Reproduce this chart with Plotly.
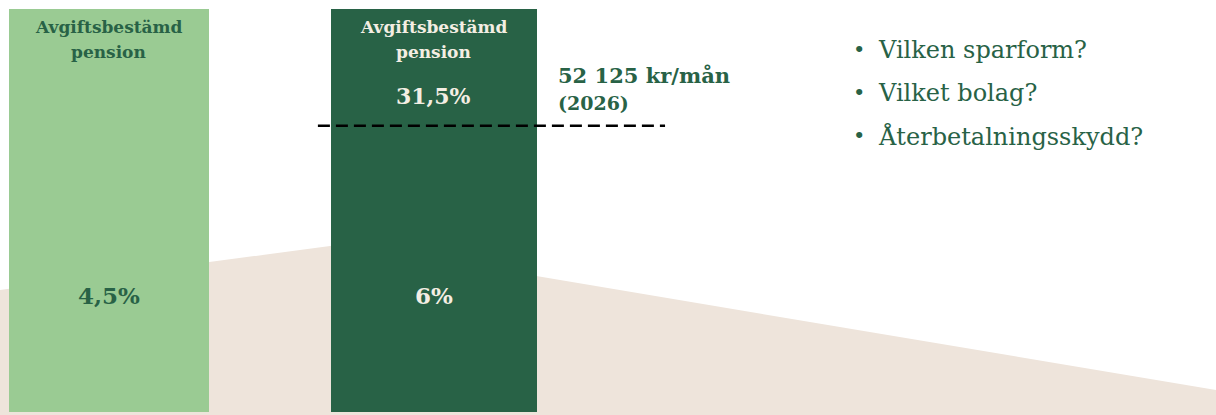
import plotly.graph_objects as go

# ---- data ----
bar_titles = [["Avgiftsbestämd", "pension"], ["Avgiftsbestämd", "pension"]]
bar_positions = [0, 1]
segment_below_ceiling = [100, 71]   # share of bar height up to the income ceiling
segment_above_ceiling = [0, 29]     # share of bar height above the ceiling
rate_below = ["4,5%", "6%"]
rate_above = ["", "31,5%"]
ceiling_label = "52 125 kr/mån"
ceiling_year = "(2026)"
questions = ["Vilken sparform?", "Vilket bolag?", "Återbetalningsskydd?"]

LIGHT = "#9ACB93"
DARK = "#286246"
CREAM = "#F4EEE3"
BEIGE = "#EEE4DB"
FONT = "DejaVu Serif"

W, H = 1216, 415
fig = go.Figure()

fig.add_trace(go.Bar(
    x=bar_positions, y=segment_below_ceiling, width=[0.615, 0.634],
    marker=dict(color=[LIGHT, DARK], line=dict(width=0)), hoverinfo="skip"))
fig.add_trace(go.Bar(
    x=bar_positions, y=segment_above_ceiling, width=[0.615, 0.634],
    marker=dict(color=[LIGHT, DARK], line=dict(width=0)), hoverinfo="skip"))

# background beige slope
def px(x, y):
    return f"{x/W:.5f},{1 - y/H:.5f}"

path = "M " + " L ".join([px(0, 290), px(345, 244), px(1216, 390), px(1216, 415), px(0, 415)]) + " Z"
fig.add_shape(type="path", path=path, xref="paper", yref="paper",
              fillcolor=BEIGE, line=dict(width=0), layer="below")

# ceiling dashed line
ceiling = segment_below_ceiling[1]
fig.add_shape(type="line", x0=0.643, x1=1.711, y0=ceiling, y1=ceiling,
              xref="x", yref="y", line=dict(color="black", width=2.5, dash="12px,6px"))

text_colors = [DARK, CREAM]
for i, pos in enumerate(bar_positions):
    top = segment_below_ceiling[i] + segment_above_ceiling[i]
    for j, line in enumerate(bar_titles[i]):
        fig.add_annotation(x=pos, y=top, text=f"<b>{line}</b>", showarrow=False,
                           yanchor="middle", yshift=-18 - 25 * j, align="center",
                           font=dict(family=FONT, size=17, color=text_colors[i]))
    fig.add_annotation(x=pos, y=28.8, yanchor="middle", text=f"<b>{rate_below[i]}</b>",
                       showarrow=False,
                       font=dict(family=FONT, size=23, color=text_colors[i]))
    if rate_above[i]:
        fig.add_annotation(x=pos, y=segment_below_ceiling[i] + 7.3, yanchor="middle",
                           text=f"<b>{rate_above[i]}</b>", showarrow=False,
                           font=dict(family=FONT, size=22, color=text_colors[i]))

fig.add_annotation(x=556 / W, y=1 - 75 / H, xref="paper", yref="paper", xanchor="left",
                   yanchor="middle", text=f"<b>{ceiling_label}</b>", showarrow=False,
                   font=dict(family=FONT, size=21, color=DARK))
fig.add_annotation(x=556 / W, y=1 - 103 / H, xref="paper", yref="paper", xanchor="left",
                   yanchor="middle", text=f"<b>{ceiling_year}</b>", showarrow=False,
                   font=dict(family=FONT, size=19, color=DARK))

for k, q in enumerate(questions):
    yy = 50 + 43 * k
    fig.add_annotation(x=851 / W, y=1 - yy / H, xref="paper", yref="paper", xanchor="left",
                       yanchor="middle", text="•", showarrow=False,
                       font=dict(family=FONT, size=21, color=DARK))
    fig.add_annotation(x=876 / W, y=1 - yy / H, xref="paper", yref="paper", xanchor="left",
                       yanchor="middle", text=q, showarrow=False,
                       font=dict(family=FONT, size=24, color=DARK))

fig.update_layout(
    width=W, height=H, margin=dict(l=0, r=0, t=0, b=0),
    barmode="stack", showlegend=False,
    paper_bgcolor="white", plot_bgcolor="rgba(0,0,0,0)",
    xaxis=dict(range=[-0.335, 3.406], visible=False, fixedrange=True),
    yaxis=dict(range=[-0.744, 102.23], visible=False, fixedrange=True),
)

fig.write_html("out.html", config={"displayModeBar": False},
               post_script="document.body.style.margin='0px';document.body.style.overflow='hidden';")
